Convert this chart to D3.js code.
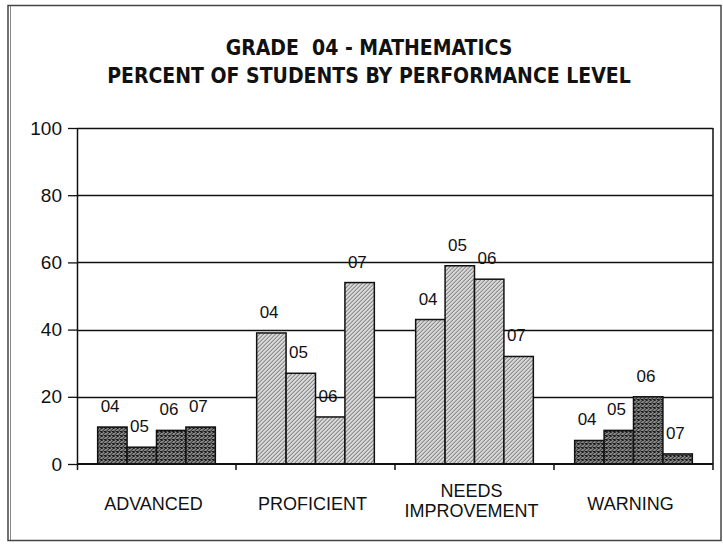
<!DOCTYPE html>
<html>
<head>
  <meta charset="utf-8">
  <style>
    body {
      margin: 0;
      background: #fff;
    }

    svg {
      display: block;
      background: #fff;
    }

    .title {
      font-family: "Liberation Sans Narrow", "Arial Narrow", "DejaVu Sans Condensed", sans-serif;
      font-weight: bold;
      font-size: 21px;
      fill: #111;
      white-space: pre;
    }

    .tick text, .cat, .bar-label {
      font-family: "Liberation Sans", Arial, sans-serif;
      fill: #111;
    }

    .grid line {
      stroke: #111;
      stroke-width: 1.3;
    }
  </style>
  <script src="https://cdn.jsdelivr.net/npm/d3@7"></script>
</head>

<body>
  <script>
    const categories = ["ADVANCED", "PROFICIENT", "NEEDS IMPROVEMENT", "WARNING"];
    const catLines = [["ADVANCED"], ["PROFICIENT"], ["NEEDS", "IMPROVEMENT"], ["WARNING"]];
    const years = ["04", "05", "06", "07"];
    // percent of students, one array per category, in order of years
    const advanced = [11, 5, 10, 11];
    const proficient = [39, 27, 14, 54];
    const needsImprovement = [43, 59, 55, 32];
    const warning = [7, 10, 20, 3];
    const yTicks = [0, 20, 40, 60, 80, 100];
    const titleLines = ["GRADE  04 - MATHEMATICS", "PERCENT OF STUDENTS BY PERFORMANCE LEVEL"];

    const values = [advanced, proficient, needsImprovement, warning];
    const shade = ["dark", "light", "light", "dark"];

    const width = 723;
    const height = 550;
    const margin = { top: 128, right: 10, bottom: 86, left: 77 };

    const svg = d3.select("body")
      .append("svg")
      .attr("width", width)
      .attr("height", height);

    // halftone-ish fills, like the scanned original
    const defs = svg.append("defs");
    function halftone(id, bg, dots, dotColor) {
      const p = defs.append("pattern")
        .attr("id", id)
        .attr("width", 4)
        .attr("height", 4)
        .attr("patternUnits", "userSpaceOnUse");
      p.append("rect").attr("width", 4).attr("height", 4).attr("fill", bg);
      dots.forEach(d => {
        p.append("rect")
          .attr("x", d[0]).attr("y", d[1])
          .attr("width", 1).attr("height", 1)
          .attr("fill", dotColor);
      });
    }
    halftone("dark", "#8a8a8a", [[0, 0], [2, 1], [1, 2], [3, 3], [0, 3], [3, 0], [2, 3]], "#1a1a1a");
    halftone("light", "#d8d8d8", [[0, 0], [2, 2], [3, 1], [1, 3]], "#6a6a6a");

    // outer frame
    svg.append("rect")
      .attr("x", 8).attr("y", 5.5)
      .attr("width", 713).attr("height", 535)
      .attr("fill", "none")
      .attr("stroke", "#444")
      .attr("stroke-width", 1.5);
    svg.append("line")
      .attr("x1", 10.5).attr("x2", 10.5)
      .attr("y1", 6).attr("y2", 540)
      .attr("stroke", "#888")
      .attr("stroke-width", 1);

    svg.selectAll(".title")
      .data(titleLines)
      .join("text")
      .attr("class", "title")
      .attr("x", 369)
      .attr("y", (d, i) => 55 + i * 28)
      .attr("text-anchor", "middle")
      .text(d => d);

    const x0 = d3.scaleBand()
      .domain(categories)
      .range([margin.left, width - margin.right]);

    const groupW = x0.bandwidth() * 0.74;
    const x1 = d3.scaleBand()
      .domain(years)
      .range([0, groupW]);

    const y = d3.scaleLinear()
      .domain([0, 100])
      .range([height - margin.bottom, margin.top]);

    // gridlines
    svg.append("g")
      .attr("class", "grid")
      .selectAll("line")
      .data(yTicks.filter(d => d > 0))
      .join("line")
      .attr("x1", margin.left)
      .attr("x2", width - margin.right)
      .attr("y1", d => Math.round(y(d)) + 0.5)
      .attr("y2", d => Math.round(y(d)) + 0.5);

    // bars
    const groups = svg.append("g")
      .selectAll("g")
      .data(categories)
      .join("g")
      .attr("transform", d => `translate(${x0(d) + (x0.bandwidth() - groupW) / 2},0)`);

    groups.selectAll("rect")
      .data((d, i) => values[i].map((v, j) => ({ v, yr: years[j], fill: shade[i] })))
      .join("rect")
      .attr("x", d => x1(d.yr))
      .attr("y", d => y(d.v))
      .attr("width", x1.bandwidth())
      .attr("height", d => y(0) - y(d.v))
      .attr("fill", d => `url(#${d.fill})`)
      .attr("stroke", "#111")
      .attr("stroke-width", 1.5);

    groups.selectAll(".bar-label")
      .data((d, i) => values[i].map((v, j) => ({ v, yr: years[j] })))
      .join("text")
      .attr("class", "bar-label")
      .attr("x", d => x1(d.yr) + 3)
      .attr("y", d => y(d.v) - 15)
      .attr("font-size", 17)
      .text(d => d.yr);

    // y axis
    const yAxis = svg.append("g")
      .attr("transform", `translate(${margin.left},0)`)
      .call(d3.axisLeft(y).tickValues(yTicks).tickSize(9).tickPadding(6).tickFormat(d3.format("d")));
    yAxis.select(".domain").remove();
    yAxis.selectAll(".tick line").attr("stroke", "#111").attr("stroke-width", 1.3);
    yAxis.selectAll(".tick text").attr("font-size", 19);
    yAxis.append("line")
      .attr("x1", 0.5).attr("x2", 0.5)
      .attr("y1", y(100))
      .attr("y2", y(0) + 6)
      .attr("stroke", "#111")
      .attr("stroke-width", 1.5);

    // right edge of the plot
    svg.append("line")
      .attr("x1", width - margin.right).attr("x2", width - margin.right)
      .attr("y1", y(100))
      .attr("y2", y(0))
      .attr("stroke", "#111")
      .attr("stroke-width", 1.5);

    // x axis
    const xAxis = svg.append("g")
      .attr("transform", `translate(0,${y(0)})`);
    xAxis.append("line")
      .attr("x1", margin.left)
      .attr("x2", width - margin.right)
      .attr("stroke", "#111")
      .attr("stroke-width", 1.8);
    xAxis.selectAll(".xtick")
      .data(categories)
      .join("line")
      .attr("class", "xtick")
      .attr("x1", d => x0(d) + x0.bandwidth())
      .attr("x2", d => x0(d) + x0.bandwidth())
      .attr("y1", 0)
      .attr("y2", 6)
      .attr("stroke", "#111")
      .attr("stroke-width", 1.5);

    svg.selectAll(".cat")
      .data(categories)
      .join("text")
      .attr("class", "cat")
      .attr("x", d => x0(d) + x0.bandwidth() / 2 - 3)
      .attr("y", (d, i) => catLines[i].length > 1 ? 497 : 510)
      .attr("text-anchor", "middle")
      .attr("font-size", 18)
      .selectAll("tspan")
      .data((d, i) => catLines[i])
      .join("tspan")
      .attr("x", function () { return this.parentNode.getAttribute("x"); })
      .attr("dy", (d, i) => i === 0 ? 0 : 20)
      .text(d => d);
  </script>
</body>
</html>
